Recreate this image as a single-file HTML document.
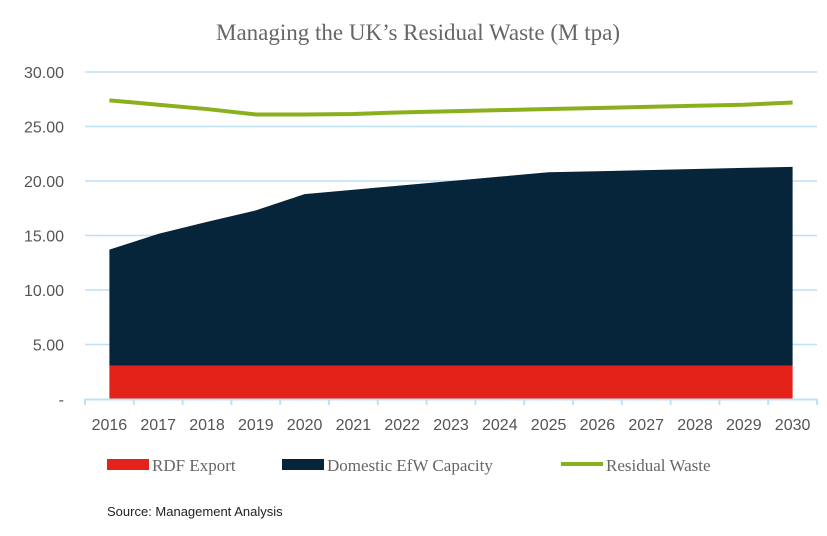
<!DOCTYPE html>
<html><head><meta charset="utf-8"><style>
body{margin:0;background:#fff;width:827px;height:531px;overflow:hidden}
text{font-family:"Liberation Sans",sans-serif}
.serif{font-family:"Liberation Serif",serif}
</style></head><body>
<svg id="chart" width="827" height="531" xmlns="http://www.w3.org/2000/svg">
<text class="serif" x="418" y="40" text-anchor="middle" font-size="23" fill="#666">Managing the UK’s Residual Waste (M tpa)</text>
<g id="grid"></g><g id="marks"></g><g id="axes"></g>
<g>
<rect x="107" y="459" width="42" height="11" fill="#e32219"/>
<text class="serif" x="152" y="471" font-size="17" fill="#666">RDF Export</text>
<rect x="282" y="459" width="42" height="11" fill="#06243a"/>
<text class="serif" x="327" y="471" font-size="17" fill="#666">Domestic EfW Capacity</text>
<rect x="561" y="462" width="42" height="4" fill="#8bb01e"/>
<text class="serif" x="606" y="471" font-size="17" fill="#666">Residual Waste</text>
</g>
<text x="107" y="516" font-size="13" fill="#222">Source: Management Analysis</text>
</svg>
<script>
const years=[2016,2017,2018,2019,2020,2021,2022,2023,2024,2025,2026,2027,2028,2029,2030];
const rdf=[3.05,3.05,3.05,3.05,3.05,3.05,3.05,3.05,3.05,3.05,3.05,3.05,3.05,3.05,3.05];
const efw=[10.65,12.1,13.2,14.25,15.75,16.15,16.55,16.95,17.35,17.75,17.85,17.95,18.05,18.15,18.25];
const residual=[27.4,27.0,26.6,26.1,26.1,26.15,26.3,26.4,26.5,26.6,26.7,26.8,26.9,27.0,27.2];
const yTicks=[0,5,10,15,20,25,30];
const yLabels=["-","5.00","10.00","15.00","20.00","25.00","30.00"];
const NS="http://www.w3.org/2000/svg";
const x0=85,step=48.8,yBase=399,yTopPx=72,yMax=30;
const X=i=>x0+step*(i+0.5);
const Y=v=>yBase-(v/yMax)*(yBase-yTopPx);
function mk(tag,attrs,parent){const e=document.createElementNS(NS,tag);for(const k in attrs)e.setAttribute(k,attrs[k]);document.getElementById(parent).appendChild(e);return e;}
yTicks.forEach((t,i)=>{
  if(t>0){const g=mk('line',{x1:x0,x2:817,y1:Y(t),y2:Y(t),stroke:'#bfe0f5','stroke-width':1.5},'grid');
  
  }
  const l=mk('text',{x:64,y:Y(t)+6,'text-anchor':'end','font-size':16,fill:'#555'},'axes');l.textContent=yLabels[i];
  
  
});
const ax=mk('line',{x1:x0,x2:817,y1:yBase+0.5,y2:yBase+0.5,stroke:'#bfe0f5','stroke-width':2},'axes');


for(let i=0;i<=years.length;i++){const tk=mk('line',{x1:x0+step*i,x2:x0+step*i,y1:yBase,y2:yBase+6,stroke:'#bfe0f5','stroke-width':2},'axes');

}
years.forEach((yr,i)=>{const t=mk('text',{x:X(i),y:430,'text-anchor':'middle','font-size':16,fill:'#555'},'axes');t.textContent=yr;

});
let p='M'+X(0)+','+Y(0);
rdf.forEach((v,i)=>p+=' L'+X(i)+','+Y(v));
p+=' L'+X(years.length-1)+','+Y(0)+' Z';
const a1=mk('path',{d:p,fill:'#e32219'},'marks');


const stackTop=efw.map((v,i)=>v+rdf[i]);
let p2='M'+X(0)+','+Y(rdf[0]);
stackTop.forEach((v,i)=>p2+=' L'+X(i)+','+Y(v));
for(let i=years.length-1;i>=0;i--)p2+=' L'+X(i)+','+Y(rdf[i]);
p2+=' Z';
const a2=mk('path',{d:p2,fill:'#06243a'},'marks');


const ln=mk('polyline',{points:residual.map((v,i)=>X(i)+','+Y(v)).join(' '),fill:'none',stroke:'#8bb01e','stroke-width':4,'stroke-linejoin':'round'},'marks');


</script>
</body></html>
